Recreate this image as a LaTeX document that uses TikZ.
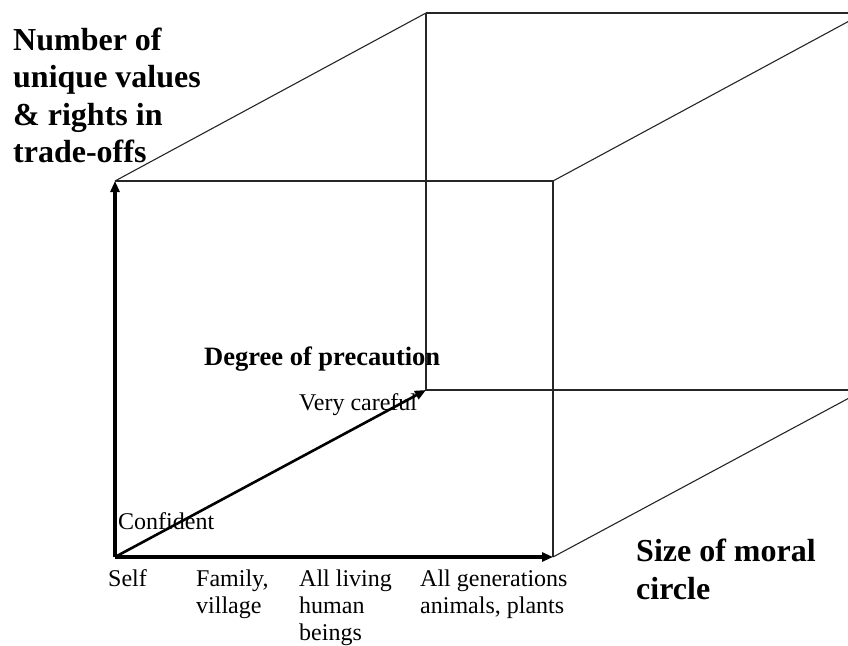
\documentclass[tikz,border=0pt]{standalone}
\usepackage{fontspec}
\setmainfont{Liberation Serif}
\usetikzlibrary{arrows.meta}
\begin{document}
\begin{tikzpicture}[x=1pt,y=-1pt,
  thinedge/.style={line width=1.1pt,draw=black!85},
  boldaxis/.style={line width=3.8pt,-{Triangle[length=11pt,width=9pt]}},
  diagaxis/.style={line width=2.6pt,-{Triangle[length=11pt,width=9pt]}},
  bigtitle/.style={inner sep=0pt,anchor=base west,align=left,font=\fontsize{32}{37.5}\selectfont\bfseries},
  midtitle/.style={inner sep=0pt,anchor=base west,font=\fontsize{26.5}{30}\selectfont\bfseries},
  ticklabel/.style={inner sep=0pt,anchor=base west,align=left,font=\fontsize{24}{27}\selectfont}]
\useasboundingbox (0,0) rectangle (848,645);
% corners
\coordinate (O) at (115,557);
\coordinate (FT) at (115,181);
\coordinate (FTR) at (553,181);
\coordinate (FBR) at (553,557);
\coordinate (BO) at (426,390);
\coordinate (BT) at (426,13);
\coordinate (BTR) at (864,13);
\coordinate (BBR) at (864,390);
\begin{scope}
\clip (0,0) rectangle (848,645);
\draw[thinedge] (FT) -- (FTR) -- (FBR);
\draw[thinedge] (FT) -- (BT);
\draw[thinedge] (FTR) -- (BTR);
\draw[thinedge] (FBR) -- (BBR);
\draw[thinedge] (BT) -- (BTR);
\draw[thinedge] (BT) -- (BO) -- (BBR);
\end{scope}
\draw[boldaxis] (O) -- (FT);
\draw[boldaxis] (O) -- (FBR);
\draw[diagaxis] (O) -- (BO);
% labels (base anchor = baseline of last line)
\node[bigtitle] (ylab) at (13,162.5) {Number of\\unique values\\\& rights in\\trade-offs};
\node[bigtitle] (xlab) at (636,599) {Size of moral\\circle};
\node[midtitle] (zlab) at (204,365) {Degree of precaution};
\node[ticklabel] (vc) at (299,410) {Very careful};
\node[ticklabel] (cf) at (118,529) {Confident};
\node[ticklabel] (t1) at (108,586) {Self};
\node[ticklabel] (t2) at (196,613) {Family,\\village};
\node[ticklabel] (t3) at (299,640) {All living\\human\\beings};
\node[ticklabel] (t4) at (420,613) {All generations\\animals, plants};
\end{tikzpicture}
\end{document}
